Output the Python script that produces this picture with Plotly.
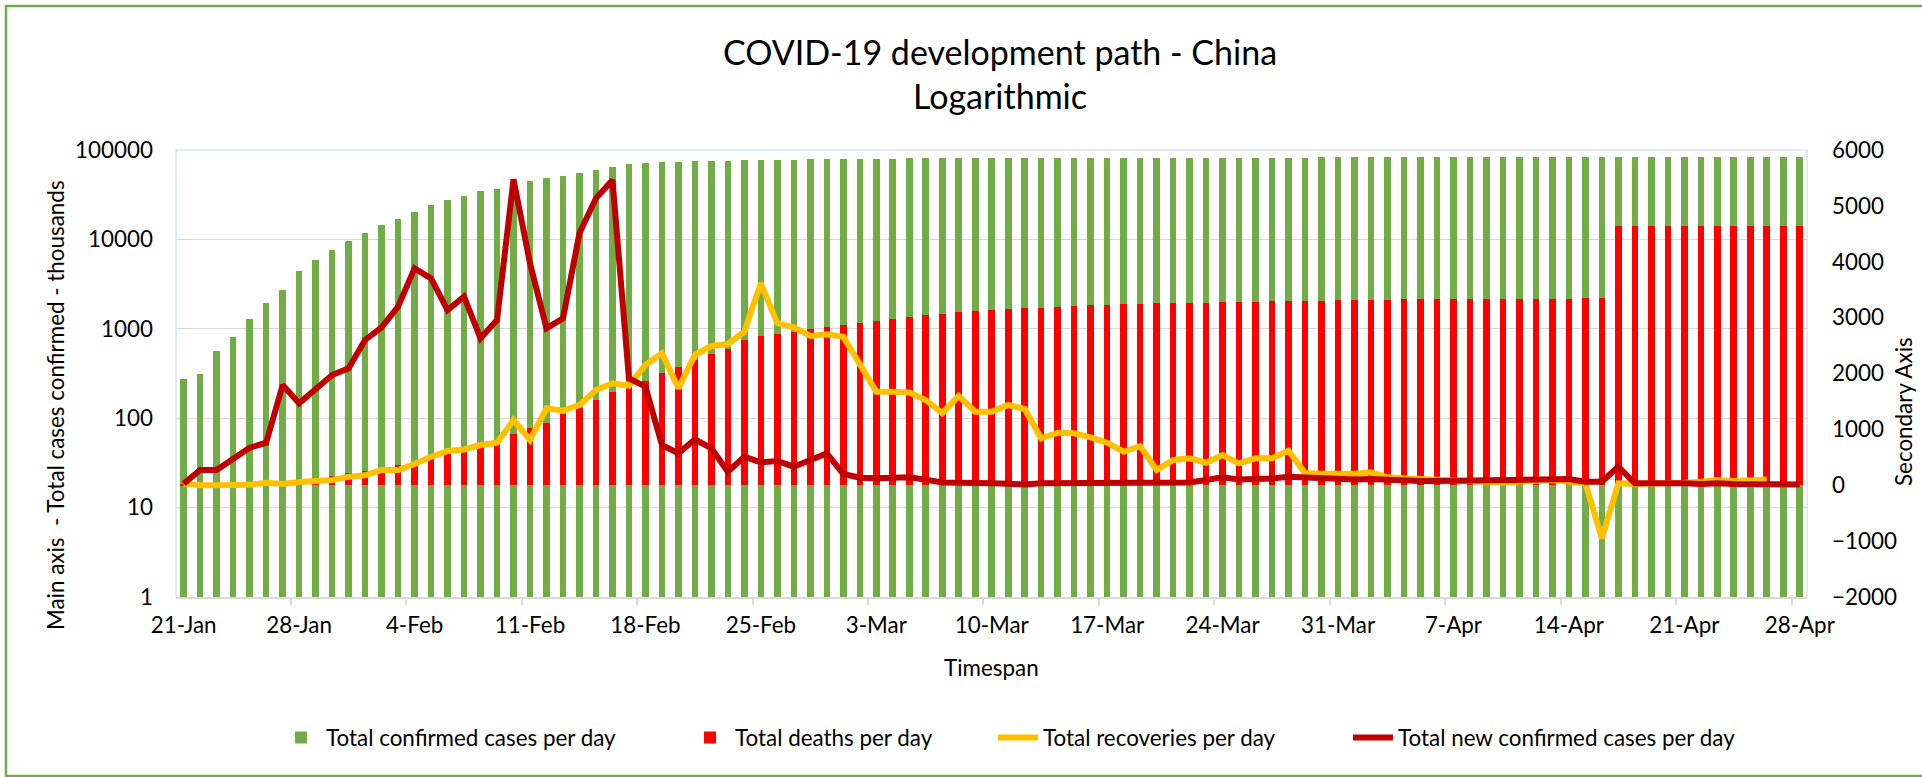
import pandas as pd
import plotly.graph_objects as go

# ---------------- data ----------------
dates = pd.date_range("2020-01-21", "2020-04-28", freq="D")

total_confirmed = [
    277, 310, 570, 820, 1290, 1960, 2720, 4470, 5930, 7610,
    9670, 11800, 14380, 17050, 20250, 24050, 27600, 30560, 34500, 36900,
    40600, 45000, 49000, 51600, 54900, 59300, 64500, 69700, 71600, 72800,
    74000, 74800, 75300, 75900, 76700, 77300, 77900, 78200, 78600, 78900,
    79400, 79970, 80170, 80300, 80420, 80570, 80710, 80810, 80860, 80900,
    80920, 80960, 80980, 80990, 81020, 81050, 81080, 81120, 81170, 81300,
    81420, 81500, 81600, 81750, 81850, 81960, 82080, 82230, 82340, 82450,
    82550, 82630, 82720, 82800, 82880, 82930, 83010, 83070, 83110, 83160,
    83250, 83310, 83370, 83480, 83600, 83700, 83750, 84150, 84180, 84200,
    84240, 84250, 84290, 84300, 84310, 84320, 84340, 84340, 84350,
]

total_deaths = [
    6, 9, 17, 25, 41, 56, 80, 106, 132, 166,
    219, 259, 300, 355, 420, 495, 565, 632, 715, 790,
    910, 1016, 1115, 1280, 1380, 1520, 1665, 1770, 1868, 2004,
    2118, 2236, 2345, 2442, 2592, 2663, 2715, 2744, 2788, 2835,
    2870, 2912, 2946, 2981, 3015, 3045, 3073, 3100, 3123, 3140,
    3162, 3173, 3180, 3194, 3204, 3218, 3231, 3237, 3249, 3253,
    3259, 3265, 3270, 3277, 3283, 3287, 3293, 3298, 3301, 3306,
    3311, 3314, 3318, 3322, 3326, 3330, 3331, 3333, 3335, 3337,
    3339, 3340, 3341, 3342, 3342, 3344, 3345, 4632, 4632, 4632,
    4632, 4632, 4632, 4632, 4632, 4633, 4633, 4633, 4643,
]

recoveries_per_day = [
    30, 0, 0, 0, 10, 45, 21, 58, 82, 94,
    154, 178, 273, 273, 380, 511, 612, 640, 720, 761,
    1168, 810, 1377, 1335, 1436, 1705, 1824, 1782, 2152, 2361,
    1735, 2331, 2492, 2528, 2749, 3614, 2898, 2826, 2671, 2701,
    2659, 2152, 1675, 1675, 1660, 1526, 1290, 1597, 1316, 1316,
    1436, 1365, 840, 941, 929, 857, 761, 600, 702, 273,
    452, 482, 403, 541, 392, 482, 482, 618, 219, 207,
    201, 207, 231, 141, 124, 112, 94, 82, 63, 45,
    51, 63, 76, 94, 63, 35, -950, 35, 21, 21,
    35, 45, 63, 94, 76, 94, 101, None, None,
]

new_confirmed_per_day = [
    30, 273, 273, 464, 672, 761, 1794, 1466, 1735, 1973,
    2093, 2600, 2826, 3196, 3882, 3703, 3136, 3375, 2630, 2957,
    5476, 3972, 2808, 2987, 4509, 5135, 5463, 1914, 1764, 720,
    571, 822, 661, 243, 511, 410, 434, 332, 452, 571,
    201, 135, 124, 141, 143, 101, 50, 45, 27, 35,
    27, 15, 35, 35, 35, 45, 35, 45, 51, 51,
    51, 51, 94, 141, 101, 107, 120, 154, 134, 114,
    101, 101, 114, 94, 94, 76, 76, 82, 88, 76,
    82, 88, 112, 118, 112, 63, 63, 332, 35, 35,
    45, 35, 21, 35, 21, 21, 21, 15, 15,
]

main_tick_vals = [1, 10, 100, 1000, 10000, 100000]
main_tick_text = ["1", "10", "100", "1000", "10000", "100000"]

# ---------------- styling ----------------
FONT = "Lato, Calibri, 'Open Sans', sans-serif"
TICK_SIZE = 22.4
GREEN = "#70ad47"
RED = "#ff0000"
YELLOW = "#ffc000"
DARKRED = "#c00000"
GRID = "#d9d9d9"
BORDER = "#dae3f3"
DAY_MS = 86400000
BAR_W = 0.4 * DAY_MS

fig = go.Figure()

fig.add_trace(go.Bar(
    x=dates, y=total_confirmed, name="Total confirmed cases per day",
    marker=dict(color=GREEN, line=dict(width=0)), width=BAR_W,
    yaxis="y", legend="legend",
))
fig.add_trace(go.Bar(
    x=dates, y=total_deaths, name="Total deaths per day",
    marker=dict(color=RED, line=dict(width=0)), width=BAR_W,
    yaxis="y2", legend="legend2",
))
fig.add_trace(go.Scatter(
    x=dates, y=recoveries_per_day, name="Total recoveries per day",
    mode="lines", line=dict(color=YELLOW, width=6), connectgaps=False,
    yaxis="y2", legend="legend3",
))
fig.add_trace(go.Scatter(
    x=dates, y=new_confirmed_per_day, name="Total new confirmed cases per day",
    mode="lines", line=dict(color=DARKRED, width=6),
    yaxis="y2", legend="legend4",
))

W, H = 1922, 777
L, R, T, B = 176, 115, 150, 180
PW, PH = W - L - R, H - T - B


def px_x(px):
    return (px - L) / PW


def px_y(py):
    return (H - B - py) / PH


x0 = dates[0] - pd.Timedelta(days=0.467)
x1 = dates[-1] + pd.Timedelta(days=0.44)

legend_common = dict(
    orientation="h", yanchor="middle", xanchor="left",
    font=dict(family=FONT, size=TICK_SIZE, color="#000"),
    bgcolor="rgba(0,0,0,0)", itemwidth=40,
)

fig.update_layout(
    width=W, height=H,
    margin=dict(l=L, r=R, t=T, b=B, pad=0),
    paper_bgcolor="white", plot_bgcolor="white",
    barmode="overlay", bargap=0,
    font=dict(family=FONT, size=TICK_SIZE, color="#000"),
    title=dict(
        text="COVID-19 development path - China<br>Logarithmic",
        font=dict(family=FONT, size=34, color="#000"),
        x=px_x(1000), xref="paper", xanchor="center",
        y=1 - 65 / H, yref="container", yanchor="middle",
    ),
    xaxis=dict(
        type="date", range=[x0, x1],
        showgrid=False, zeroline=False,
        showline=True, linecolor=GRID, linewidth=1.5,
        tickmode="linear", tick0="2020-01-21", dtick=7 * DAY_MS,
        tickformat="%-d-%b", ticks="", ticklabelstandoff=7,
        tickfont=dict(family=FONT, size=TICK_SIZE, color="#000"),
        minor=dict(ticks="outside", ticklen=6, tickcolor=GRID, tickwidth=1.5,
                   tick0="2020-01-20 12:00", dtick=7 * DAY_MS, showgrid=False),
    ),
    yaxis=dict(
        type="log", range=[0, 5],
        tickmode="array", tickvals=main_tick_vals, ticktext=main_tick_text,
        showgrid=True, gridcolor=GRID, gridwidth=1.3,
        zeroline=False, showline=False, ticks="",
        ticklabelstandoff=22,
        tickfont=dict(family=FONT, size=TICK_SIZE, color="#000"),
    ),
    yaxis2=dict(
        overlaying="y", side="right", range=[-2000, 6000], dtick=1000,
        tickmode="linear", tick0=0,
        showgrid=False, zeroline=False, showline=False, ticks="",
        ticklabelstandoff=24,
        tickfont=dict(family=FONT, size=TICK_SIZE, color="#000"),
    ),
    legend=dict(x=px_x(276), y=px_y(738), **legend_common),
    legend2=dict(x=px_x(685), y=px_y(738), **legend_common),
    legend3=dict(x=px_x(993), y=px_y(738), **legend_common),
    legend4=dict(x=px_x(1348), y=px_y(738), **legend_common),
    showlegend=True,
)

# axis titles
fig.add_annotation(
    text="Main axis  - Total cases confirmed - thousands",
    xref="paper", yref="paper", x=px_x(55), y=px_y(405),
    textangle=-90, showarrow=False, xanchor="center", yanchor="middle",
    font=dict(family=FONT, size=TICK_SIZE, color="#000"),
)
fig.add_annotation(
    text="Secondary Axis",
    xref="paper", yref="paper", x=px_x(1904), y=px_y(411),
    textangle=-90, showarrow=False, xanchor="center", yanchor="middle",
    font=dict(family=FONT, size=TICK_SIZE, color="#000"),
)
fig.add_annotation(
    text="Timespan",
    xref="paper", yref="paper", x=0.5, y=px_y(667),
    showarrow=False, xanchor="center", yanchor="middle",
    font=dict(family=FONT, size=TICK_SIZE, color="#000"),
)

# plot-area border (left, top, right) and outer chart border
fig.add_shape(type="path", xref="paper", yref="paper",
              path="M 0,0 L 0,1 L 1,1 L 1,0",
              line=dict(color=BORDER, width=1.5), layer="above")
fig.add_shape(type="rect", xref="paper", yref="paper",
              x0=px_x(6), x1=px_x(1930), y0=px_y(776), y1=px_y(6),
              line=dict(color=GREEN, width=2.5), layer="below")

fig.write_html(
    "out.html",
    config={"displayModeBar": False},
    post_script="document.body.style.margin='0';document.body.style.overflow='hidden';",
)
